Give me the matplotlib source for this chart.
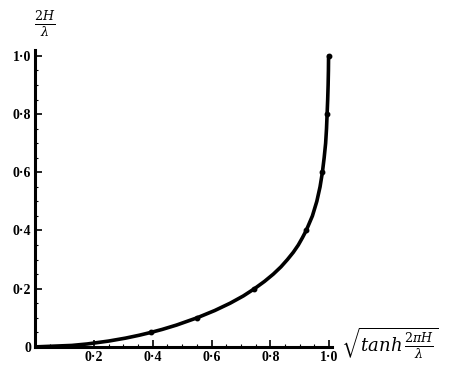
import matplotlib
matplotlib.use("Agg")
import matplotlib.pyplot as plt
from matplotlib.ticker import MultipleLocator, FixedLocator

# data: x = sqrt(tanh(2*pi*H/lambda)), y = 2H/lambda
x_vals = [0.0, 0.125, 0.177, 0.25, 0.307, 0.354, 0.395, 0.432, 0.481, 0.551, 0.611,
          0.663, 0.708, 0.746, 0.780, 0.810, 0.836, 0.858, 0.878, 0.895, 0.909, 0.922,
          0.943, 0.958, 0.969, 0.977, 0.983, 0.988, 0.991, 0.993, 0.995, 0.9965, 0.9975, 0.998]
y_vals = [0.0, 0.005, 0.01, 0.02, 0.03, 0.04, 0.05, 0.06, 0.075, 0.10, 0.125,
          0.15, 0.175, 0.20, 0.225, 0.25, 0.275, 0.30, 0.325, 0.35, 0.375, 0.40,
          0.45, 0.50, 0.55, 0.60, 0.65, 0.70, 0.75, 0.80, 0.85, 0.90, 0.95, 1.00]
marker_x = [0.395, 0.551, 0.746, 0.922, 0.977, 0.993, 0.998]
marker_y = [0.05, 0.10, 0.20, 0.40, 0.60, 0.80, 1.00]

x_ticks = [0.2, 0.4, 0.6, 0.8, 1.0]
x_tick_labels = ["0·2", "0·4", "0·6", "0·8", "1·0"]
y_ticks = [0.0, 0.2, 0.4, 0.6, 0.8, 1.0]
y_tick_labels = ["0", "0·2", "0·4", "0·6", "0·8", "1·0"]

plt.rcParams['font.family'] = ['Liberation Serif', 'DejaVu Serif']
plt.rcParams['mathtext.fontset'] = 'dejavuserif'

fig = plt.figure(figsize=(4.5, 3.71), dpi=100)
ax = fig.add_axes([0.078, 0.065, 0.66, 0.80])
ax.set_xlim(0, 1.01)
ax.set_ylim(0, 1.02)

ax.plot(x_vals, y_vals, color='black', lw=2.6, solid_capstyle='round', solid_joinstyle='round')
ax.plot(marker_x, marker_y, 'o', color='black', ms=3.2)

for s in ['top', 'right']:
    ax.spines[s].set_visible(False)
ax.spines['left'].set_linewidth(2.2)
ax.spines['bottom'].set_linewidth(2.2)

ax.xaxis.set_major_locator(FixedLocator(x_ticks))
ax.set_xticklabels(x_tick_labels, fontsize=10, fontweight='bold')
ax.yaxis.set_major_locator(FixedLocator(y_ticks))
ax.set_yticklabels(y_tick_labels, fontsize=10, fontweight='bold')
ax.xaxis.set_minor_locator(MultipleLocator(0.05))
ax.yaxis.set_minor_locator(MultipleLocator(0.05))
ax.tick_params(axis='both', which='major', direction='in', length=5, width=1.2, pad=3)
ax.tick_params(axis='both', which='minor', direction='in', length=2, width=0.8)

fig.text(0.10, 0.935, r'$\frac{2H}{\lambda}$', fontsize=13, ha='center', va='center')
fig.text(0.865, 0.075, r'$\sqrt{tanh\,\frac{2\pi H}{\lambda}}$', fontsize=13, ha='center', va='center')

fig.savefig('out.png', dpi=100)
